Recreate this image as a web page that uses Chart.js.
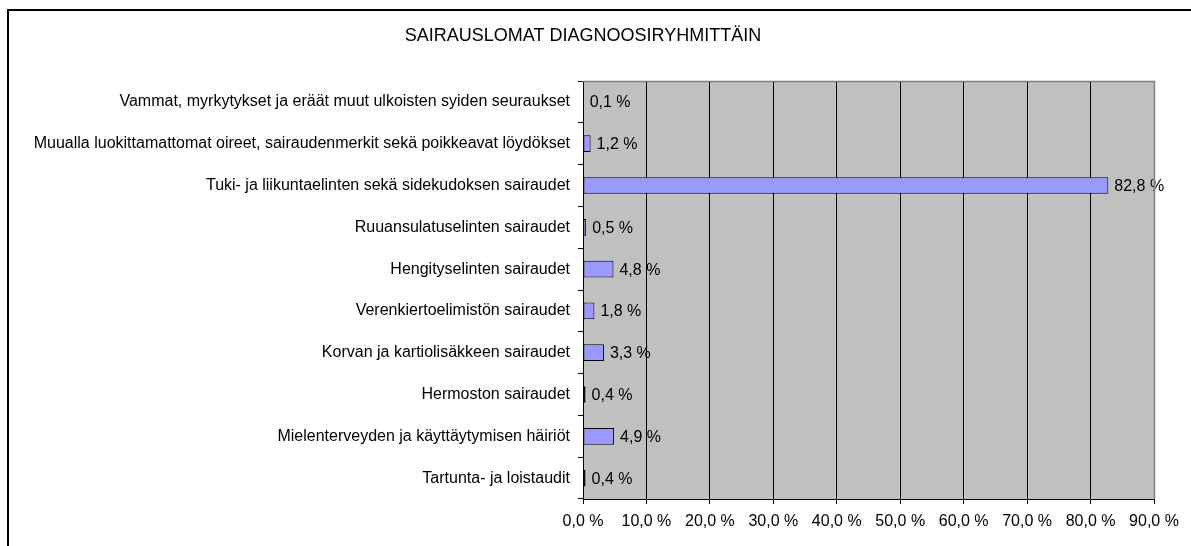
<!DOCTYPE html>
<html lang="fi">
<head>
    <meta charset="UTF-8">
    <title>Sairauslomat diagnoosiryhmittäin</title>
    <script src="https://cdn.jsdelivr.net/npm/chart.js"></script>
    <style>
        body { margin: 0; background: #fff; }
        #wrap { position: relative; width: 1191px; height: 546px; }
        #frame { position: absolute; left: 7px; top: 9px; width: 1300px; height: 600px;
                 border-left: 2px solid #000; border-top: 2px solid #000; }
        canvas { position: absolute; left: 0; top: 0; }
    </style>
</head>
<body>
<div id="wrap">
    <div id="frame"></div>
    <canvas id="sickChart" width="1191" height="546"></canvas>
</div>

<script>
    const chartTitle = 'SAIRAUSLOMAT DIAGNOOSIRYHMITTÄIN';
    const categories = [
        'Vammat, myrkytykset ja eräät muut ulkoisten syiden seuraukset',
        'Muualla luokittamattomat oireet, sairaudenmerkit sekä poikkeavat löydökset',
        'Tuki- ja liikuntaelinten sekä sidekudoksen sairaudet',
        'Ruuansulatuselinten sairaudet',
        'Hengityselinten sairaudet',
        'Verenkiertoelimistön sairaudet',
        'Korvan ja kartiolisäkkeen sairaudet',
        'Hermoston sairaudet',
        'Mielenterveyden ja käyttäytymisen häiriöt',
        'Tartunta- ja loistaudit'
    ];
    const shares = [0.1, 1.2, 82.8, 0.5, 4.8, 1.8, 3.3, 0.4, 4.9, 0.4];
    const axisMax = 90;
    const axisStep = 10;

    const FONT = '"Liberation Sans", Arial, sans-serif';
    const pct = v => v.toFixed(1).replace('.', ',') + ' %';

    // grey plot background + frame, title, value labels
    const decor = {
        id: 'decor',
        beforeDraw(chart) {
            const a = chart.chartArea;
            const c = chart.ctx;
            c.save();
            c.fillStyle = '#c0c0c0';
            c.fillRect(a.left, a.top, a.right - a.left, a.bottom - a.top);
            c.restore();
        },
        afterDraw(chart) {
            const a = chart.chartArea;
            const c = chart.ctx;
            c.save();
            c.strokeStyle = '#808080';
            c.lineWidth = 1.5;
            c.beginPath();
            c.moveTo(a.left, a.top + 0.5);
            c.lineTo(a.right + 0.5, a.top + 0.5);
            c.lineTo(a.right + 0.5, a.bottom);
            c.stroke();
            c.fillStyle = '#000';
            c.font = '18px ' + FONT;
            c.textAlign = 'center';
            c.textBaseline = 'middle';
            c.fillText(chartTitle, 583, 36);
            c.restore();
        },
        afterDatasetsDraw(chart) {
            const c = chart.ctx;
            const meta = chart.getDatasetMeta(0);
            c.save();
            c.fillStyle = '#000';
            c.font = '16px ' + FONT;
            c.textAlign = 'left';
            c.textBaseline = 'middle';
            meta.data.forEach((bar, i) => {
                c.fillText(pct(shares[i]), bar.x + 6, bar.y + 1);
            });
            c.restore();
        }
    };

    const ctx = document.getElementById('sickChart').getContext('2d');
    new Chart(ctx, {
        type: 'bar',
        data: {
            labels: categories,
            datasets: [{
                data: shares,
                backgroundColor: '#9999ff',
                borderColor: '#000',
                borderWidth: 1,
                borderSkipped: false,
                categoryPercentage: 0.8,
                barPercentage: 0.5
            }]
        },
        options: {
            indexAxis: 'y',
            responsive: false,
            animation: false,
            layout: { padding: { left: 0, right: 37, top: 81, bottom: 0 } },
            plugins: {
                legend: { display: false },
                title: { display: false },
                tooltip: { enabled: false }
            },
            scales: {
                x: {
                    min: 0,
                    max: axisMax,
                    ticks: {
                        stepSize: axisStep,
                        color: '#000',
                        font: { family: FONT, size: 16 },
                        padding: 8,
                        maxRotation: 0,
                        callback: v => pct(v)
                    },
                    grid: {
                        color: c => c.tick && c.tick.value === axisMax ? '#808080' : '#000',
                        tickColor: '#000',
                        tickLength: 5,
                        lineWidth: 1
                    },
                    border: { color: '#000', width: 1 },
                    afterFit: s => { s.height = 47; }
                },
                y: {
                    ticks: {
                        color: '#000',
                        font: { family: FONT, size: 16 },
                        padding: 8,
                        autoSkip: false
                    },
                    grid: {
                        drawOnChartArea: false,
                        tickColor: '#000',
                        tickLength: 5,
                        offset: true
                    },
                    border: { color: '#000', width: 1 },
                    afterFit: s => { s.width = 583; }
                }
            }
        },
        plugins: [decor]
    });
</script>
</body>
</html>
